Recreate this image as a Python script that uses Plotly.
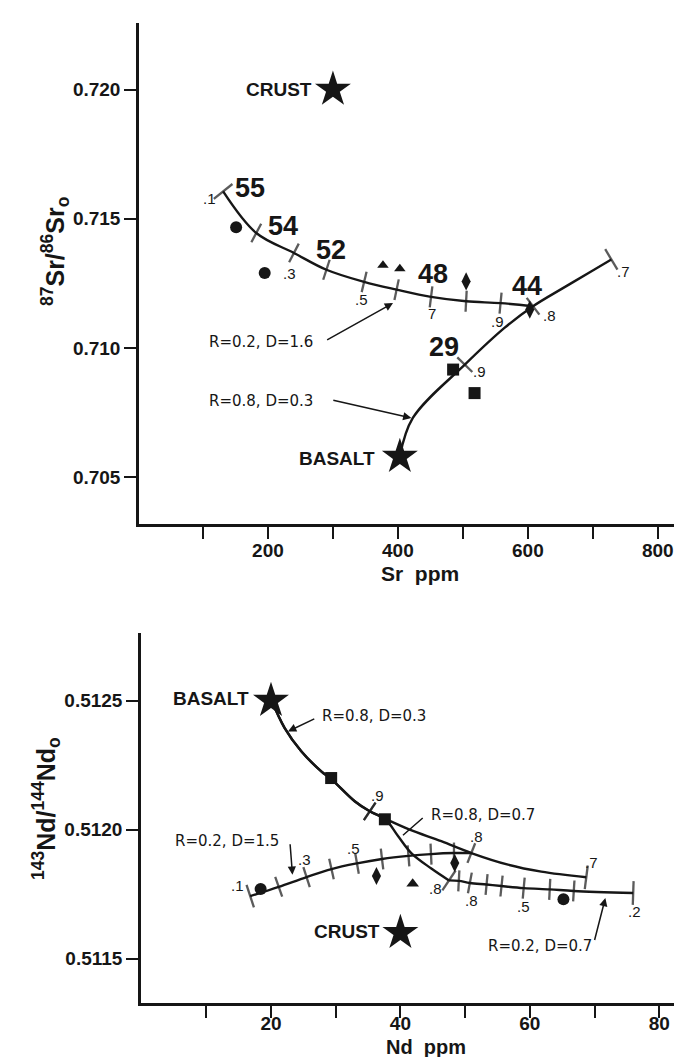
import plotly.graph_objects as go

FONT = "Liberation Sans, Arial, Helvetica, sans-serif"
FONT_R = "DejaVu Sans, Liberation Sans, sans-serif"
INK = "#161616"

# ================= TOP PANEL: 87Sr/86Sr vs Sr ppm =================
sr_crust_x, sr_crust_y = [300], [0.7200]
sr_basalt_x, sr_basalt_y = [403], [0.7058]

sr_circle_x = [151, 195]
sr_circle_y = [0.71467, 0.71290]
sr_triangle_x = [377, 403]
sr_triangle_y = [0.71320, 0.71307]
sr_diamond_x = [505, 603]
sr_diamond_y = [0.71258, 0.71149]
sr_square_x = [485, 518]
sr_square_y = [0.70917, 0.70826]

# stage 1: R=0.8, D=0.3 from basalt (ticks at F = .9, .8, .7)
sr_s1_x = [403, 423, 503, 564, 608, 654, 698, 728.5]
sr_s1_y = [0.70582, 0.70730, 0.70936, 0.71078, 0.71162, 0.71232, 0.71297, 0.71343]
sr_s1_tick = [0, 0, 1, 0, 1, 0, 0, 1]

# stage 2: R=0.2, D=1.6 from F=.8 of stage 1 (ticks F = .9 ... .1)
sr_s2_x = [608, 558, 505, 451, 398, 348, 290, 240, 182, 131]
sr_s2_y = [0.71162, 0.71174, 0.71181, 0.71198, 0.71226, 0.71256, 0.71303, 0.71368, 0.71445, 0.71606]
sr_s2_tick = [0, 1, 1, 1, 1, 1, 1, 1, 1, 1]

sr_silica_text = ["55", "54", "52", "48", "44", "29"]
sr_silica_x = [173, 223, 297.5, 454, 599, 471]
sr_silica_y = [0.71619, 0.71474, 0.71381, 0.71287, 0.71242, 0.71004]

sr_F_text = [".1", ".3", ".5", "7", ".9", ".8", ".7", ".9"]
sr_F_x = [110, 233.5, 343.7, 452.5, 554, 633.7, 746.5, 526]
sr_F_y = [0.71580, 0.71290, 0.71187, 0.71132, 0.71101, 0.71126, 0.71297, 0.70908]

sr_xticks = [100, 200, 300, 400, 500, 600, 700, 800]
sr_xticktext = ["", "200", "", "400", "", "600", "", "800"]
sr_yticks = [0.705, 0.710, 0.715, 0.720]
sr_yticktext = ["0.705", "0.710", "0.715", "0.720"]

# ================= BOTTOM PANEL: 143Nd/144Nd vs Nd ppm =================
nd_crust_x, nd_crust_y = [40], [0.5116]
nd_basalt_x, nd_basalt_y = [20], [0.5125]

nd_circle_x = [18.4, 65.2]
nd_circle_y = [0.51177, 0.51173]
nd_diamond_x = [36.3, 48.4]
nd_diamond_y = [0.51182, 0.51187]
nd_triangle_x = [41.9]
nd_triangle_y = [0.51179]
nd_square_x = [29.3, 37.6]
nd_square_y = [0.51220, 0.51204]

# R=0.8, D=0.7 from basalt (ticks .9, .8, .7)
nd_b_x = [20.05, 22.12, 24.68, 27.77, 29.32, 32.94, 35.26, 37.58, 41.44, 46.32, 50.96, 56.63, 61.78, 68.73]
nd_b_y = [0.512504, 0.512394, 0.512304, 0.512226, 0.512196, 0.512110, 0.512071, 0.512043,
          0.512000, 0.511955, 0.511909, 0.511864, 0.511837, 0.511815]
nd_b_tick = [0, 0, 0, 0, 0, 0, 1, 0, 0, 0, 1, 0, 0, 1]

# R=0.8, D=0.3 from basalt (ticks .9, .8)
nd_a_x = [20.05, 22.12, 24.68, 27.77, 29.32, 32.94, 35.26, 37.58, 39.63, 41.68, 44.78, 47.51]
nd_a_y = [0.512504, 0.512394, 0.512304, 0.512226, 0.512196, 0.512110, 0.512071, 0.512043,
          0.511975, 0.511909, 0.511849, 0.511803]
nd_a_tick = [0, 0, 0, 0, 0, 0, 1, 0, 0, 0, 0, 1]

# R=0.2, D=1.5 from F=.8 of the D=0.7 curve (ticks .9 ... .1)
nd_c_x = [50.96, 48.28, 44.73, 41.25, 37.16, 33.29, 29.35, 25.50, 21.19, 16.79]
nd_c_y = [0.511909, 0.511909, 0.511905, 0.511898, 0.511886, 0.511869, 0.511847, 0.511816, 0.511778, 0.511742]
nd_c_tick = [0, 1, 1, 1, 1, 1, 1, 1, 1, 1]

# R=0.2, D=0.7 from F=.8 of the D=0.3 curve (ticks .9 ... .2)
nd_e_x = [47.51, 49.03, 50.74, 53.32, 55.63, 59.06, 63.08, 66.80, 75.98]
nd_e_y = [0.511803, 0.511801, 0.511793, 0.511787, 0.511781, 0.511773, 0.511768, 0.511762, 0.511754]
nd_e_tick = [0, 1, 1, 1, 1, 1, 1, 1, 1]

nd_F_text = [".1", ".3", ".5", ".9", ".8", ".7", ".8", ".8", ".5", ".2"]
nd_F_x = [14.9, 25.2, 32.8, 36.5, 51.7, 69.5, 45.5, 51.0, 59.0, 76.2]
nd_F_y = [0.511785, 0.511883, 0.511927, 0.512132, 0.511974, 0.511874, 0.511773, 0.511724, 0.511702, 0.511683]

nd_xticks = [10, 20, 30, 40, 50, 60, 70, 80]
nd_xticktext = ["", "20", "", "40", "", "60", "", "80"]
nd_yticks = [0.5115, 0.5120, 0.5125]
nd_yticktext = ["0.5115", "0.5120", "0.5125"]

fig = go.Figure()


def curve(x, y, ticks, xa, ya):
    sizes = [15 if t else 0 for t in ticks]
    if ticks[-1]:
        sizes[-1] = 17
    fig.add_trace(go.Scatter(
        x=x, y=y, xaxis=xa, yaxis=ya, mode="lines+markers",
        line=dict(color=INK, width=2.4, shape="spline", smoothing=1.0),
        marker=dict(symbol="line-ew", size=sizes, angleref="previous",
                    color=INK, line=dict(color=INK, width=2.3)),
        hoverinfo="skip", cliponaxis=False))


def pts(x, y, symbol, size, xa, ya):
    fig.add_trace(go.Scatter(
        x=x, y=y, xaxis=xa, yaxis=ya, mode="markers",
        marker=dict(symbol=symbol, size=size, color=INK, line=dict(width=0)),
        hoverinfo="skip", cliponaxis=False))


# top curves and points
curve(sr_s1_x, sr_s1_y, sr_s1_tick, "x", "y")
curve(sr_s2_x, sr_s2_y, sr_s2_tick, "x", "y")
pts(sr_circle_x, sr_circle_y, "circle", 12, "x", "y")
pts(sr_triangle_x, sr_triangle_y, "triangle-up", 10, "x", "y")
pts(sr_diamond_x, sr_diamond_y, "diamond-tall", 13, "x", "y")
pts(sr_square_x, sr_square_y, "square", 12, "x", "y")
pts(sr_crust_x, sr_crust_y, "star", 27, "x", "y")
pts(sr_basalt_x, sr_basalt_y, "star", 27, "x", "y")

# bottom curves and points
curve(nd_b_x, nd_b_y, nd_b_tick, "x2", "y2")
curve(nd_a_x, nd_a_y, nd_a_tick, "x2", "y2")
curve(nd_c_x, nd_c_y, nd_c_tick, "x2", "y2")
curve(nd_e_x, nd_e_y, nd_e_tick, "x2", "y2")
pts(nd_circle_x, nd_circle_y, "circle", 12, "x2", "y2")
pts(nd_diamond_x, nd_diamond_y, "diamond-tall", 13, "x2", "y2")
pts(nd_triangle_x, nd_triangle_y, "triangle-up", 11, "x2", "y2")
pts(nd_square_x, nd_square_y, "square", 12, "x2", "y2")
pts(nd_crust_x, nd_crust_y, "star", 27, "x2", "y2")
pts(nd_basalt_x, nd_basalt_y, "star", 27, "x2", "y2")

ann = []


def txt(x, y, s, size, xr, yr, bold=False, xanchor="center", family=FONT, angle=0):
    ann.append(dict(x=x, y=y, xref=xr, yref=yr, text=s, showarrow=False,
                    xanchor=xanchor, yanchor="middle", textangle=angle, borderpad=0,
                    font=dict(family=family, size=size, color=INK,
                              weight="bold" if bold else "normal")))


def arrow(x0, y0, x1, y1, xr, yr, head=2):
    ann.append(dict(x=x1, y=y1, ax=x0, ay=y0, xref=xr, yref=yr, axref=xr, ayref=yr,
                    text=" ", showarrow=True, arrowhead=head, arrowsize=1.1,
                    arrowwidth=1.5, arrowcolor=INK, standoff=0, startstandoff=0,
                    font=dict(size=2)))


# top texts
txt(270, 0.7200, "CRUST", 19, "x", "y", bold=True, xanchor="right")
txt(367, 0.70575, "BASALT", 19, "x", "y", bold=True, xanchor="right")
for s, x, y in zip(sr_silica_text, sr_silica_x, sr_silica_y):
    txt(x, y, s, 27, "x", "y", bold=True)
for s, x, y in zip(sr_F_text, sr_F_x, sr_F_y):
    txt(x, y, s, 15, "x", "y")
txt(107, 0.71024, "R=0.2, D=1.6", 15, "x", "y", xanchor="left", family=FONT_R)
arrow(288, 0.710275, 392.5, 0.711744, "x", "y")
txt(107, 0.70797, "R=0.8, D=0.3", 15, "x", "y", xanchor="left", family=FONT_R)
arrow(297.5, 0.708005, 420.7, 0.707297, "x", "y")

# bottom texts
txt(16.7, 0.51251, "BASALT", 19, "x2", "y2", bold=True, xanchor="right")
txt(37.0, 0.511605, "CRUST", 19, "x2", "y2", bold=True, xanchor="right")
for s, x, y in zip(nd_F_text, nd_F_x, nd_F_y):
    txt(x, y, s, 15, "x2", "y2")
txt(27.7, 0.512441, "R=0.8, D=0.3", 15, "x2", "y2", xanchor="left", family=FONT_R)
arrow(27.0, 0.512433, 22.63, 0.512381, "x2", "y2")
txt(44.5, 0.512057, "R=0.8, D=0.7", 15, "x2", "y2", xanchor="left", family=FONT_R)
arrow(43.76, 0.512052, 40.40, 0.511978, "x2", "y2", head=0)
txt(5.0, 0.511956, "R=0.2, D=1.5", 15, "x2", "y2", xanchor="left", family=FONT_R)
arrow(22.92, 0.511955, 23.32, 0.511825, "x2", "y2")
txt(69.7, 0.511548, "R=0.2, D=0.7", 15, "x2", "y2", xanchor="right", family=FONT_R)
arrow(69.9, 0.511560, 71.68, 0.511735, "x2", "y2")

# axis titles
txt(412 / 682, 1 - 565 / 1057, "Sr  ppm", 21, "paper", "paper", bold=True)
txt(418 / 682, 1 - 1039 / 1057, "Nd  ppm", 20, "paper", "paper", bold=True)
txt(47 / 682, 1 - 243 / 1057, "<sup>87</sup>Sr/<sup>86</sup>Sr<sub>o</sub>", 25,
    "paper", "paper", bold=True, angle=-90)
txt(38 / 682, 1 - 801 / 1057, "<sup>143</sup>Nd/<sup>144</sup>Nd<sub>o</sub>", 25,
    "paper", "paper", bold=True, angle=-90)

axis_common = dict(showline=True, linewidth=2.5, linecolor=INK, showgrid=False, zeroline=False,
                   ticks="outside", ticklen=12, tickwidth=2, tickcolor=INK,
                   tickfont=dict(family=FONT, size=19, color=INK, weight="bold"))

fig.update_layout(
    width=682, height=1057, margin=dict(l=0, r=0, t=0, b=0),
    paper_bgcolor="white", plot_bgcolor="rgba(0,0,0,0)", showlegend=False,
    annotations=ann,
    xaxis=dict(domain=[131 / 682, 1], range=[1.5, 849.6], anchor="y", ticklabelstandoff=-5,
               tickmode="array", tickvals=sr_xticks, ticktext=sr_xticktext, **axis_common),
    yaxis=dict(domain=[1 - 516 / 1057, 1 - 15 / 1057], range=[0.703198, 0.722572], anchor="x",
               tickmode="array", tickvals=sr_yticks, ticktext=sr_yticktext, **axis_common),
    xaxis2=dict(domain=[133 / 682, 1], range=[-0.09, 84.76], anchor="y2", ticklabelstandoff=-11,
                tickmode="array", tickvals=nd_xticks, ticktext=nd_xticktext, **axis_common),
    yaxis2=dict(domain=[1 - 995 / 1057, 1 - 625 / 1057], range=[0.5113274, 0.5127626], anchor="x2",
                tickmode="array", tickvals=nd_yticks, ticktext=nd_yticktext, **axis_common),
)

fig.write_html("out.html")
